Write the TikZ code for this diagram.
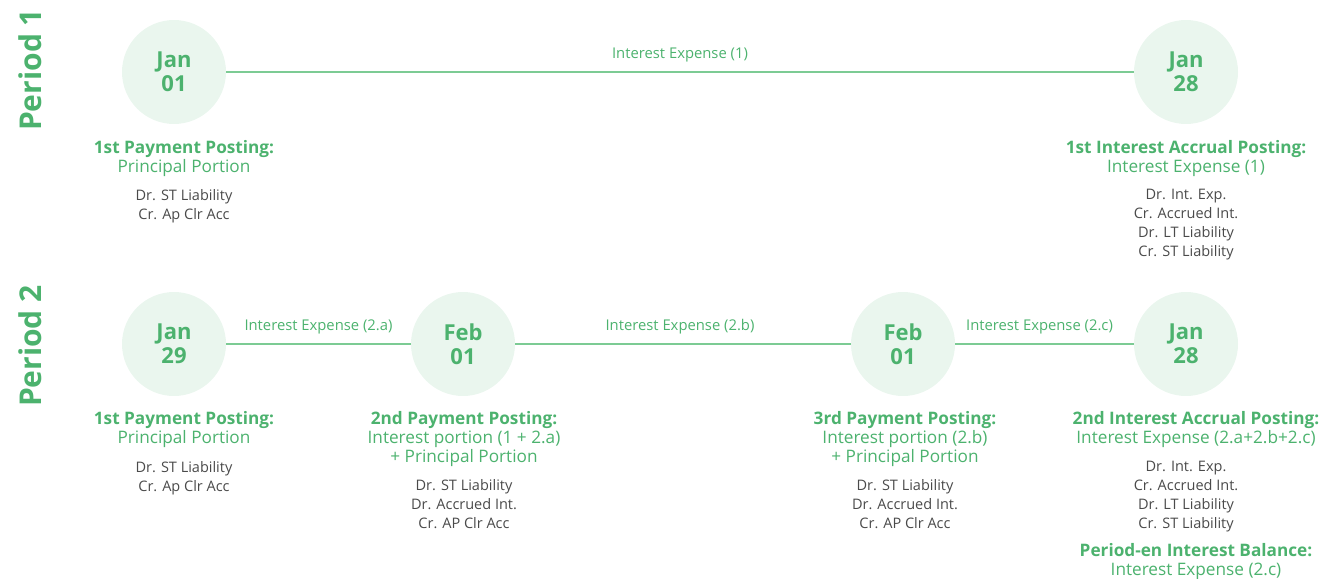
\documentclass[tikz,border=0pt]{standalone}
\usepackage{fontspec}
\setmainfont{Open Sans}
\definecolor{grn}{HTML}{4CB26E}
\definecolor{lgrn}{HTML}{7CCB94}
\definecolor{cfill}{HTML}{EAF6EE}
\definecolor{gry}{HTML}{4A4A4A}
\tikzset{
  datec/.style={circle, minimum size=104pt, inner sep=0pt, fill=cfill, text=grn,
    align=center, font=\fontsize{22}{24}\selectfont\bfseries},
  tl/.style={draw=lgrn, line width=1.3pt},
  elabel/.style={midway, above=9pt, inner sep=0pt, text=grn, font=\fontsize{14.8}{16}\selectfont},
  head/.style={anchor=north, inner sep=0pt, text=grn, align=center, font=\fontsize{17.2}{19.3}\selectfont},
  entry/.style={anchor=north, inner sep=0pt, text=gry, align=center, font=\fontsize{14.5}{19}\selectfont},
  period/.style={rotate=90, inner sep=0pt, text=grn, font=\fontsize{30}{32}\selectfont\bfseries}
}
\begin{document}
\begin{tikzpicture}[x=1pt,y=-1pt]
\useasboundingbox (0,0) rectangle (1324,578);
% period labels
\node[period] (per1) at (30,70) {Period 1};
\node[period] (per2) at (30,346) {Period 2};
% period 1
\node[datec, yshift=-1pt] (a1) at (174,71) {Jan\\01};
\node[datec, yshift=-1pt] (a2) at (1186,71) {Jan\\28};
\draw[tl] (a1) -- (a2) node[elabel] (la) {Interest Expense (1)};
\node[head] (ha1) at (184,140) {{\bfseries 1st Payment Posting:}\\Principal Portion};
\node[entry] (ea1) at (184,189) {Dr. ST Liability\\Cr. Ap Clr Acc};
\node[head] (ha2) at (1186,140) {{\bfseries 1st Interest Accrual Posting:}\\Interest Expense (1)};
\node[entry] (ea2) at (1186,189) {Dr. Int. Exp.\\Cr. Accrued Int.\\Dr. LT Liability\\Cr. ST Liability};
% period 2
\node[datec, yshift=-1pt] (b1) at (174,343) {Jan\\29};
\node[datec, yshift=-1pt] (b2) at (463,343) {Feb\\01};
\node[datec, yshift=-1pt] (b3) at (903,343) {Feb\\01};
\node[datec, yshift=-1pt] (b4) at (1186,343) {Jan\\28};
\draw[tl] (b1) -- (b2) node[elabel] (lb1) {Interest Expense (2.a)};
\draw[tl] (b2) -- (b3) node[elabel, xshift=-3pt] (lb2) {Interest Expense (2.b)};
\draw[tl] (b3) -- (b4) node[elabel, xshift=-5pt] (lb3) {Interest Expense (2.c)};
\node[head] (hb1) at (184,411) {{\bfseries 1st Payment Posting:}\\Principal Portion};
\node[entry] (eb1) at (184,461) {Dr. ST Liability\\Cr. Ap Clr Acc};
\node[head] (hb2) at (464,411) {{\bfseries 2nd Payment Posting:}\\Interest portion (1 + 2.a)\\+ Principal Portion};
\node[entry] (eb2) at (464,479) {Dr. ST Liability\\Dr. Accrued Int.\\Cr. AP Clr Acc};
\node[head] (hb3) at (905,411) {{\bfseries 3rd Payment Posting:}\\Interest portion (2.b)\\+ Principal Portion};
\node[entry] (eb3) at (905,479) {Dr. ST Liability\\Dr. Accrued Int.\\Cr. AP Clr Acc};
\node[head] (hb4) at (1196,411) {{\bfseries 2nd Interest Accrual Posting:}\\Interest Expense (2.a+2.b+2.c)};
\node[entry] (eb4) at (1186,461) {Dr. Int. Exp.\\Cr. Accrued Int.\\Dr. LT Liability\\Cr. ST Liability};
\node[head] (hb5) at (1196,543) {{\bfseries Period-en Interest Balance:}\\Interest Expense (2.c)};
\end{tikzpicture}
\end{document}
